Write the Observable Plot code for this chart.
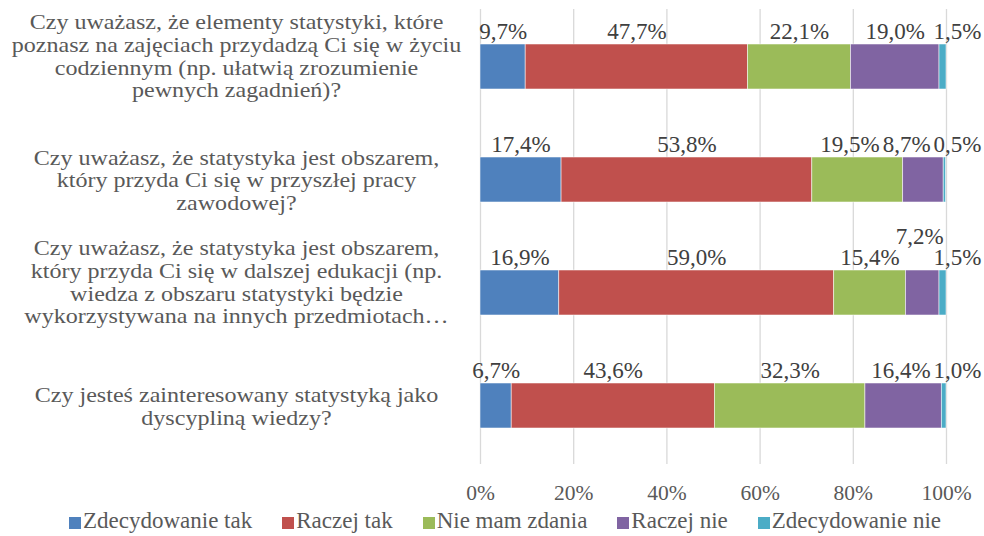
<!DOCTYPE html>
<html><head><meta charset="utf-8">
<script src="https://cdn.jsdelivr.net/npm/d3@7"></script>
<script src="https://cdn.jsdelivr.net/npm/@observablehq/plot@0.6"></script>
<style>
body{margin:0;background:#fff;font-family:"Liberation Serif","Times New Roman",serif;}
#legend{display:flex;justify-content:center;height:31px;align-items:center;font-size:23px;color:#595959;padding-left:26px;white-space:nowrap;}
#legend .it{display:flex;align-items:center;margin:0 15px;}
#legend .sw{width:12px;height:12px;margin-right:2px;margin-top:4px;}
</style></head><body><div id="chart"></div><div id="legend"></div><script>
const questions = [
 "Czy uważasz, że elementy statystyki, które\npoznasz na zajęciach przydadzą Ci się w życiu\ncodziennym (np. ułatwią zrozumienie\npewnych zagadnień)?",
 "Czy uważasz, że statystyka jest obszarem,\nktóry przyda Ci się w przyszłej pracy\nzawodowej?",
 "Czy uważasz, że statystyka jest obszarem,\nktóry przyda Ci się w dalszej edukacji (np.\nwiedza z obszaru statystyki będzie\nwykorzystywana na innych przedmiotach…",
 "Czy jesteś zainteresowany statystyką jako\ndyscypliną wiedzy?"
];
const answers = ["Zdecydowanie tak","Raczej tak","Nie mam zdania","Raczej nie","Zdecydowanie nie"];
const zdecydowanieTak = [9.7,17.4,16.9,6.7];
const raczejTak = [47.7,53.8,59.0,43.6];
const nieMamZdania = [22.1,19.5,15.4,32.3];
const raczejNie = [19.0,8.7,7.2,16.4];
const zdecydowanieNie = [1.5,0.5,1.5,1.0];
const xTicks = [0,20,40,60,80,100];
const colors = ["#4F81BD","#C0504D","#9BBB59","#8064A2","#4BACC6"];

const series = [zdecydowanieTak, raczejTak, nieMamZdania, raczejNie, zdecydowanieNie];
const rows = [];
questions.forEach((q,i)=>{
  let acc = 0;
  answers.forEach((s,j)=>{
    const v = series[j][i];
    rows.push({q, s, v, start: acc, end: acc+v});
    acc += v;
  });
});

const W=984, H=505, mL=480, mR=38, mT=9, mB=41;
const k = (W-mL-mR)/100;
const labelSize = 23;
const gap = 3;
const ctx = document.createElement("canvas").getContext("2d");
ctx.font = `${labelSize}px "Liberation Serif"`;
const fmt = v => v.toFixed(1).replace(".", ",") + "%";

// simple label collision layout (pixel units relative to plot left)
const labels = [];
questions.forEach(q=>{
  const items = rows.filter(r=>r.q===q).map(r=>({q, text: fmt(r.v), w: ctx.measureText(fmt(r.v)).width,
     c: (r.start+r.end)/2*k, seg: (r.start+r.end)/2, lifted:false}));
  const last = items[items.length-1];
  last.c = 100*k + 11;
  for (let j=items.length-2;j>=0;j--){
    const it = items[j];
    const nx = items.slice(j+1).find(d=>!d.lifted);
    const ov = (it.c+it.w/2) - (nx.c-nx.w/2) + gap;
    if (ov>0){
      const nc = it.c - ov;
      const prev = items[j-1];
      const pov = prev ? (prev.c+prev.w/2) - (nc-it.w/2) + gap : 0;
      if (pov > 10) it.lifted = true; else it.c = nc;
    }
  }
  items.forEach(d=>{ d.xl = d.c/k; labels.push(d); });
});
const normal = labels.filter(d=>!d.lifted);
const lifted = labels.filter(d=>d.lifted);

const step = (H-mT-mB)/questions.length;
const bw = step*0.4;
const catSize = 21.5;

const plot = Plot.plot({
  width: W, height: H,
  marginLeft: mL, marginRight: mR, marginTop: mT, marginBottom: mB,
  style: {fontFamily: '"Liberation Serif","Times New Roman",serif', background:"#fff"},
  x: {domain:[0,100], axis:null},
  y: {domain: questions, paddingInner:0.6, paddingOuter:0.3, axis:null},
  color: {domain: answers, range: colors},
  marks: [
    Plot.ruleX(xTicks, {x: d=>d, stroke:"#d9d9d9", strokeWidth:1.3}),
    Plot.axisX(xTicks, {tickSize:0, tickPadding:20, tickFormat: d=>d+"%", fontSize:21.5, fill:"#595959"}),
    Plot.barX(rows, {x1:"start", x2:"end", y:"q", fill:"s", stroke:"white", strokeWidth:0.75, strokeOpacity:0.7}),
    Plot.text(normal, {x:"xl", y:"q", text:"text", dy:-35, fontSize:labelSize, fill:"#404040"}),
    Plot.text(lifted, {x:"seg", y:"q", text:"text", dy:-56, dx:-3, fontSize:labelSize, fill:"#404040"}),
    Plot.ruleX(lifted, {x:"seg", y:"q", dy:-(40-bw/2), insetBottom: bw - (40-bw/2), stroke:"#a6a6a6", strokeWidth:1}),
    Plot.text(questions.filter(q=>q.split("\n").length<4), {y:d=>d, text:d=>d, frameAnchor:"left", dx:-244, textAnchor:"middle", lineHeight:1.05, fontSize:catSize, fill:"#595959"}),
    Plot.text(questions.filter(q=>q.split("\n").length>=4), {y:d=>d, text:d=>d, frameAnchor:"left", dx:-244, dy:-11, textAnchor:"middle", lineHeight:1.05, fontSize:catSize, fill:"#595959"})
  ]
});
document.getElementById("chart").appendChild(plot);

// horizontal stretch of the category labels (as in the reference rendering)
const sx = 1.12;
Array.from(plot.querySelectorAll("text")).filter(t=>t.textContent.startsWith("Czy")).forEach(t=>{
  const tr = t.getAttribute("transform");
  if (tr) t.setAttribute("transform", tr + ` scale(${sx},1)`);
  else {
    const x = +t.getAttribute("x")||0, y = +t.getAttribute("y")||0;
    t.removeAttribute("x"); t.removeAttribute("y");
    t.setAttribute("transform", `translate(${x},${y}) scale(${sx},1)`);
  }
});

const lg = document.getElementById("legend");
answers.forEach((a,i)=>{
  const it = document.createElement("div"); it.className="it";
  const sw = document.createElement("div"); sw.className="sw"; sw.style.background = colors[i];
  const t = document.createElement("span"); t.textContent = a;
  it.appendChild(sw); it.appendChild(t); lg.appendChild(it);
});
</script></body></html>
